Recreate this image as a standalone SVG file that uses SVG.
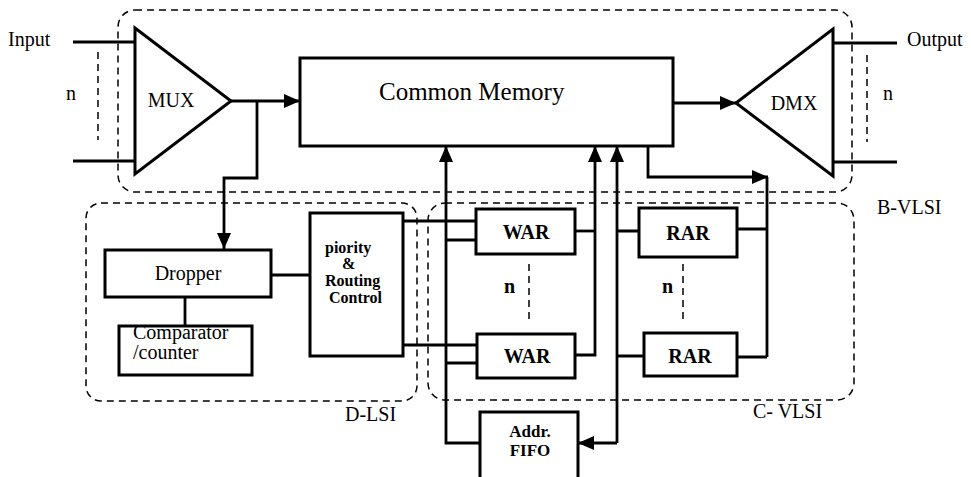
<svg xmlns="http://www.w3.org/2000/svg" width="971" height="477" viewBox="0 0 971 477">
<style>
.box{fill:#fff;stroke:#000;stroke-width:3}
.tri{fill:#fff;stroke:#000;stroke-width:3;stroke-linejoin:miter}
.ln{fill:none;stroke:#000;stroke-width:2.8}
.dash{fill:none;stroke:#000;stroke-width:1.5;stroke-dasharray:7 5}
.t{font-family:"Liberation Serif","Times New Roman",serif;font-size:20px;fill:#000}
.b{font-weight:bold}
</style>
<defs>
<marker id="ah" viewBox="0 0 16 14" refX="16" refY="7" markerWidth="16" markerHeight="14" orient="auto" markerUnits="userSpaceOnUse">
<path d="M0,0 L16,7 L0,14 z" fill="#000"/>
</marker>
</defs>
<rect width="971" height="477" fill="#fff"/>

<g id="containers">
<rect id="b-vlsi" class="dash" x="118" y="10" width="734" height="182" rx="17"/>
<rect id="d-lsi" class="dash" x="86" y="203" width="331" height="198" rx="15"/>
<rect id="c-vlsi" class="dash" x="428" y="203" width="426" height="197" rx="17"/>
<path class="dash" d="M98,52 V140 M867,55 V142 M529,264 V320 M683,264 V320"/>
</g>

<g id="connectors">
<path class="ln" d="M73,42 H135 M73,161 H135"/>
<path class="ln" d="M833,43 H897 M833,162 H897"/>
<path class="ln" d="M231,101 H300" marker-end="url(#ah)"/>
<path class="ln" d="M257,101 V178 H224 V249" marker-end="url(#ah)"/>
<path class="ln" d="M673,103 H736" marker-end="url(#ah)"/>
<path class="ln" d="M648,146 V177 H768" marker-end="url(#ah)"/>
<path class="ln" d="M767,177 V357 M737,229 H767 M737,357 H767"/>
<path class="ln" d="M480,443 H446 V146" marker-end="url(#ah)"/>
<path class="ln" d="M446,240 H476 M446,363 H477"/>
<path class="ln" d="M403,221 H476 M403,345 H477"/>
<path class="ln" d="M575,355 H595 V146" marker-end="url(#ah)"/>
<path class="ln" d="M575,231 H595"/>
<path class="ln" d="M617,443 V146" marker-end="url(#ah)"/>
<path class="ln" d="M617,443 H578" marker-end="url(#ah)"/>
<path class="ln" d="M617,231 H639 M617,356 H644"/>
<path class="ln" d="M271,275 H310 M185,297 V326"/>
</g>

<g id="mux">
<polygon class="tri" points="135,28 231,101 135,174"/>
<text class="t" x="171" y="107" text-anchor="middle">MUX</text>
</g>
<g id="dmx">
<polygon class="tri" points="736,103 833,29 833,176"/>
<text class="t" x="794" y="110" text-anchor="middle">DMX</text>
</g>
<g id="common-memory">
<rect class="box" x="300" y="58" width="373" height="88"/>
<text class="t" x="379" y="100" style="font-size:25px">Common Memory</text>
</g>
<g id="dropper">
<rect class="box" x="105" y="250" width="166" height="47"/>
<text class="t" x="188" y="280" text-anchor="middle">Dropper</text>
</g>
<g id="comparator">
<rect class="box" x="119" y="326" width="133" height="49"/>
<text class="t" x="133" y="339">Comparator</text>
<text class="t" x="133" y="359">/counter</text>
</g>
<g id="priority">
<rect class="box" x="310" y="213" width="93" height="143"/>
<text class="t b" x="325" y="253" style="font-size:16px">piority</text>
<text class="t b" x="342" y="269" style="font-size:16px">&amp;</text>
<text class="t b" x="325" y="286" style="font-size:16px">Routing</text>
<text class="t b" x="329" y="303" style="font-size:16px">Control</text>
</g>
<g id="war1">
<rect class="box" x="476" y="209" width="99" height="45"/>
<text class="t b" x="526" y="239" text-anchor="middle">WAR</text>
</g>
<g id="war2">
<rect class="box" x="477" y="334" width="98" height="44"/>
<text class="t b" x="527" y="363" text-anchor="middle">WAR</text>
</g>
<g id="rar1">
<rect class="box" x="639" y="208" width="98" height="49"/>
<text class="t b" x="688" y="240" text-anchor="middle">RAR</text>
</g>
<g id="rar2">
<rect class="box" x="644" y="333" width="93" height="43"/>
<text class="t b" x="690" y="363" text-anchor="middle">RAR</text>
</g>
<g id="addr-fifo">
<rect class="box" x="480" y="412" width="98" height="72"/>
<text class="t b" x="530" y="437" text-anchor="middle" style="font-size:17px">Addr.</text>
<text class="t b" x="530" y="456" text-anchor="middle" style="font-size:17px">FIFO</text>
</g>

<g id="labels">
<text class="t" x="8" y="46">Input</text>
<text class="t" x="907" y="46">Output</text>
<text class="t" x="66" y="100">n</text>
<text class="t" x="883" y="100">n</text>
<text class="t b" x="504" y="293">n</text>
<text class="t b" x="662" y="293">n</text>
<text class="t" x="877" y="214">B-VLSI</text>
<text class="t" x="345" y="421">D-LSI</text>
<text class="t" x="753" y="418">C- VLSI</text>
</g>
</svg>
